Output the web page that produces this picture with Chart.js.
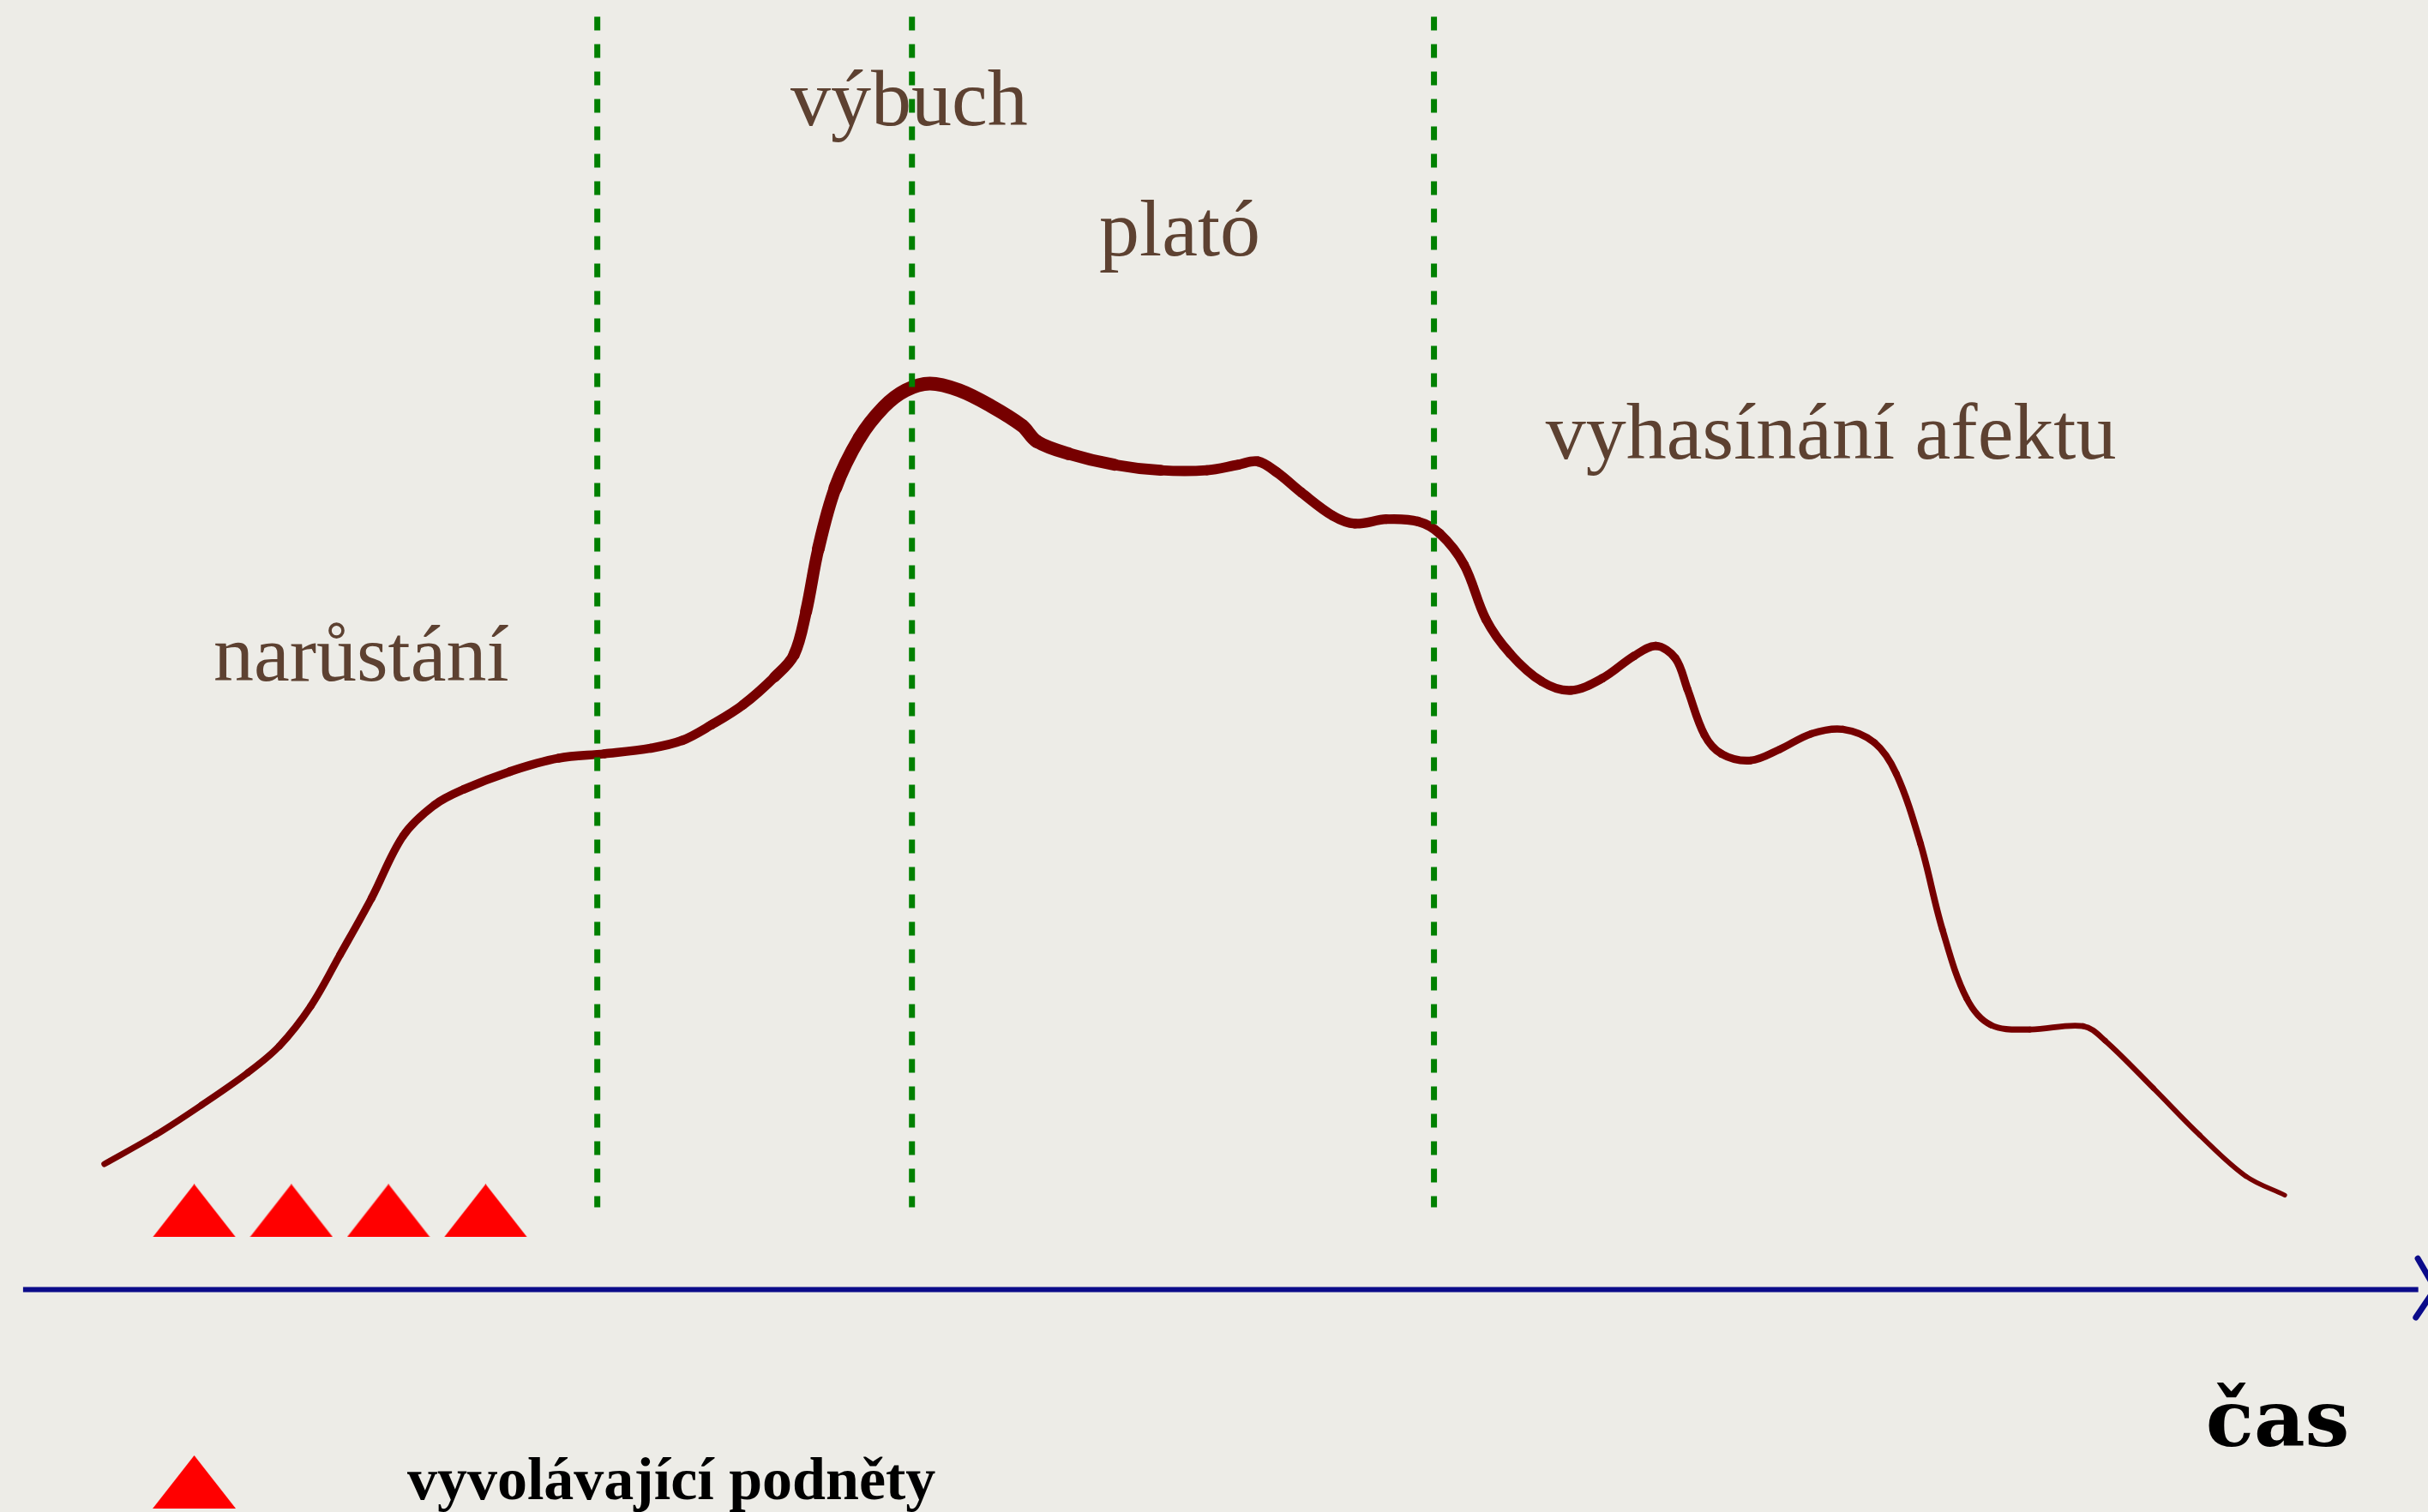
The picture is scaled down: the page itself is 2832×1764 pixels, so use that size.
<!DOCTYPE html>
<html>
<head>
<meta charset="utf-8">
<script src="https://cdn.jsdelivr.net/npm/chart.js@4/dist/chart.umd.min.js"></script>
<style>
  html, body { margin: 0; padding: 0; background: #edece7; }
  #wrap { width: 2832px; height: 1764px; }
  canvas { display: block; }
</style>
</head>
<body>
<div id="wrap"><canvas id="chartCanvas" width="2832" height="1764"></canvas></div>
<script>
// Průběh afektu v čase
const timeX = [4.3, 6.4, 8.3, 10.2, 11.5, 12.8, 14.0, 15.3, 16.6, 17.9, 19.1, 21.0, 23.0, 24.9, 26.8,
    28.1, 29.3, 30.6, 31.9, 32.7, 33.2, 33.7, 34.4, 35.4, 36.4, 37.3, 38.3, 39.5, 40.8, 42.1,
    42.7, 44.0, 45.9, 47.8, 49.7, 51.0, 51.8, 52.6, 53.6, 54.9, 55.8, 57.1, 58.4, 59.3, 60.3,
    61.2, 62.2, 63.5, 64.7, 66.0, 67.3, 68.2, 69.0, 69.5, 70.2, 70.9, 72.1, 73.3, 74.6, 75.9,
    77.2, 78.1, 79.1, 80.0, 81.0, 82.0, 83.6, 85.8, 86.7, 88.7, 90.6, 92.5, 94.1];
const intensity = [11.3, 13.9, 16.6, 19.5, 21.9, 25.5, 30.1, 35.2, 40.8, 43.6, 45.0, 46.6, 47.8, 48.2, 48.7,
    49.4, 50.8, 52.6, 55.1, 57.1, 61.0, 66.6, 72.1, 76.6, 79.4, 80.9, 81.5, 80.9, 79.5, 77.7,
    76.3, 75.2, 74.2, 73.7, 73.7, 74.2, 74.5, 73.5, 71.7, 69.6, 68.9, 69.3, 69.1, 68.0, 65.2,
    60.3, 57.2, 54.7, 53.9, 55.0, 57.0, 57.9, 56.8, 54.0, 49.9, 48.2, 47.6, 48.6, 50.0, 50.4,
    49.2, 46.4, 40.1, 32.4, 26.2, 23.8, 23.4, 23.7, 22.4, 18.1, 13.9, 10.2, 8.5];

// Hranice fází
const phaseBorders = [24.6, 37.56, 59.06];
const borderTop = 114.5;
const borderBottom = 7.4;

// Vyvolávající podněty
const stimulusX = [8, 12, 16, 20];
const stimulusY = 7.1;
const legendX = 8;
const legendY = -17.3;

// Časová osa
const axisStart = 0.95;
const axisEnd = 99.6;
const arrowTip = [100.3, 0.1];
const arrowUpper = [99.58, 2.8];
const arrowLower = [99.5, -2.5];

// Popisky
const phaseLabels = ["výbuch", "plató", "narůstání", "vyhasínání afektu"];
const phaseLabelX = [32.56, 45.27, 8.79, 63.66];
const phaseLabelY = [104.75, 93.0, 54.8, 74.76];
const timeLabel = "čas";
const timeLabelPos = [90.85, -14.06];
const legendLabel = "vyvolávající podněty";
const legendLabelPos = [16.77, -18.84];

// trojúhelník jako obrázek bodu
function triangleImage() {
    const c = document.createElement('canvas');
    c.width = 97;
    c.height = 62;
    const g = c.getContext('2d');
    g.fillStyle = '#ff0000';
    g.beginPath();
    g.moveTo(48.5, 0);
    g.lineTo(97, 62);
    g.lineTo(0, 62);
    g.closePath();
    g.fill();
    return c;
}
const tri = triangleImage();

// tloušťka čáry podle času (ručně kreslený tah)
const widthKnots = [[0, 6], [20, 10], [31, 11], [35, 16], [42, 16], [48, 12], [60, 11], [78, 8], [96, 5]];
function curveWidth(x) {
    for (let i = 1; i < widthKnots.length; i++) {
        const [x0, w0] = widthKnots[i - 1], [x1, w1] = widthKnots[i];
        if (x <= x1) return w0 + (w1 - w0) * (x - x0) / (x1 - x0);
    }
    return 5;
}

const labelPlugin = {
    id: 'labels',
    afterDatasetsDraw(chart) {
        const ctx = chart.ctx;
        const sx = chart.scales.x, sy = chart.scales.y;
        ctx.save();
        ctx.textBaseline = 'alphabetic';
        ctx.textAlign = 'left';
        ctx.fillStyle = '#5d4131';
        ctx.font = '94px "Liberation Serif"';
        phaseLabels.forEach((t, i) => {
            ctx.fillText(t, sx.getPixelForValue(phaseLabelX[i]), sy.getPixelForValue(phaseLabelY[i]));
        });
        ctx.fillStyle = '#000000';
        ctx.font = 'bold 92px "DejaVu Serif"';
        ctx.fillText(timeLabel, sx.getPixelForValue(timeLabelPos[0]), sy.getPixelForValue(timeLabelPos[1]));
        ctx.font = 'bold 70px "Liberation Serif"';
        ctx.fillText(legendLabel, sx.getPixelForValue(legendLabelPos[0]), sy.getPixelForValue(legendLabelPos[1]));
        ctx.restore();
    }
};

const datasets = [];

phaseBorders.forEach(x => {
    datasets.push({
        data: [{x: x, y: borderTop}, {x: x, y: borderBottom}],
        borderColor: '#008000',
        borderWidth: 7,
        borderDash: [16, 16],
        pointRadius: 0,
        tension: 0
    });
});

datasets.push({
    data: timeX.map((x, i) => ({x: x, y: intensity[i]})),
    borderColor: '#760000',
    borderWidth: 8,
    borderCapStyle: 'round',
    borderJoinStyle: 'round',
    pointRadius: 0,
    tension: 0.35,
    segment: {
        borderWidth: c => curveWidth((c.p0.parsed.x + c.p1.parsed.x) / 2)
    }
});

datasets.push({
    data: [{x: axisStart, y: 0}, {x: axisEnd, y: 0}],
    borderColor: '#0b0b8a',
    borderWidth: 6,
    pointRadius: 0,
    clip: false
});
datasets.push({
    data: [{x: arrowUpper[0], y: arrowUpper[1]}, {x: arrowTip[0], y: arrowTip[1]}, {x: arrowLower[0], y: arrowLower[1]}],
    borderColor: '#0b0b8a',
    borderWidth: 7,
    borderCapStyle: 'round',
    pointRadius: 0,
    tension: 0,
    clip: false
});

datasets.push({
    type: 'scatter',
    data: stimulusX.map(x => ({x: x, y: stimulusY})).concat([{x: legendX, y: legendY}]),
    pointStyle: tri,
    pointRadius: 40,
    showLine: false
});

new Chart(document.getElementById('chartCanvas'), {
    type: 'line',
    data: { datasets: datasets },
    options: {
        responsive: false,
        animation: false,
        layout: { padding: 0, autoPadding: false },
        plugins: {
            legend: { display: false },
            tooltip: { enabled: false }
        },
        scales: {
            x: { type: 'linear', min: 0, max: 100, display: false },
            y: { type: 'linear', min: -20, max: 116, display: false }
        }
    },
    plugins: [labelPlugin]
});
</script>
</body>
</html>
